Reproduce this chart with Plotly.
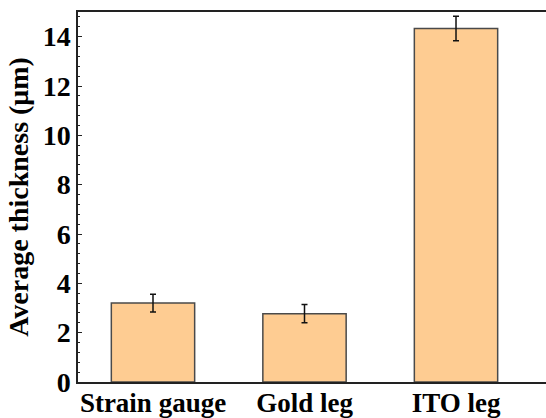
import plotly.graph_objects as go

categories = ["Strain gauge", "Gold leg", "ITO leg"]
thickness = [3.20, 2.77, 14.33]
errors = [0.36, 0.37, 0.50]

font_family = "Liberation Serif, Times New Roman, serif"

fig = go.Figure()
fig.add_trace(go.Bar(
    x=categories,
    y=thickness,
    width=0.55,
    marker=dict(color="#FECC92", line=dict(color="#4a4a4a", width=1.5)),
    error_y=dict(type="data", array=errors, visible=True, color="#111111",
                 thickness=1.5, width=3),
))

fig.update_layout(
    width=546, height=418,
    margin=dict(l=78, r=0, t=12, b=36),
    plot_bgcolor="white", paper_bgcolor="white",
    showlegend=False,
    font=dict(family=font_family, size=27, color="black"),
)
fig.update_xaxes(
    range=[-0.495, 2.594],
    showline=True, linecolor="#222222", linewidth=1.5, mirror=True,
    ticks="", showgrid=False, zeroline=False,
    ticklabelstandoff=-4,
    tickfont=dict(family=font_family, size=27, color="black", weight="bold"),
)
fig.update_yaxes(
    range=[0, 15],
    dtick=2, tick0=0,
    showline=True, linecolor="#222222", linewidth=1.5, mirror=False,
    ticks="inside", ticklen=4, tickwidth=1, tickcolor="#222222",
    minor=dict(dtick=0.4, tick0=0, ticks="inside", ticklen=2, tickwidth=1, tickcolor="#222222"),
    showgrid=False, zeroline=False,
    tickfont=dict(family=font_family, size=28, color="black", weight="bold"),
    title=dict(text="Average thickness (μm)", standoff=6,
               font=dict(family=font_family, size=28, color="black", weight="bold")),
)

fig.write_html("out.html")
